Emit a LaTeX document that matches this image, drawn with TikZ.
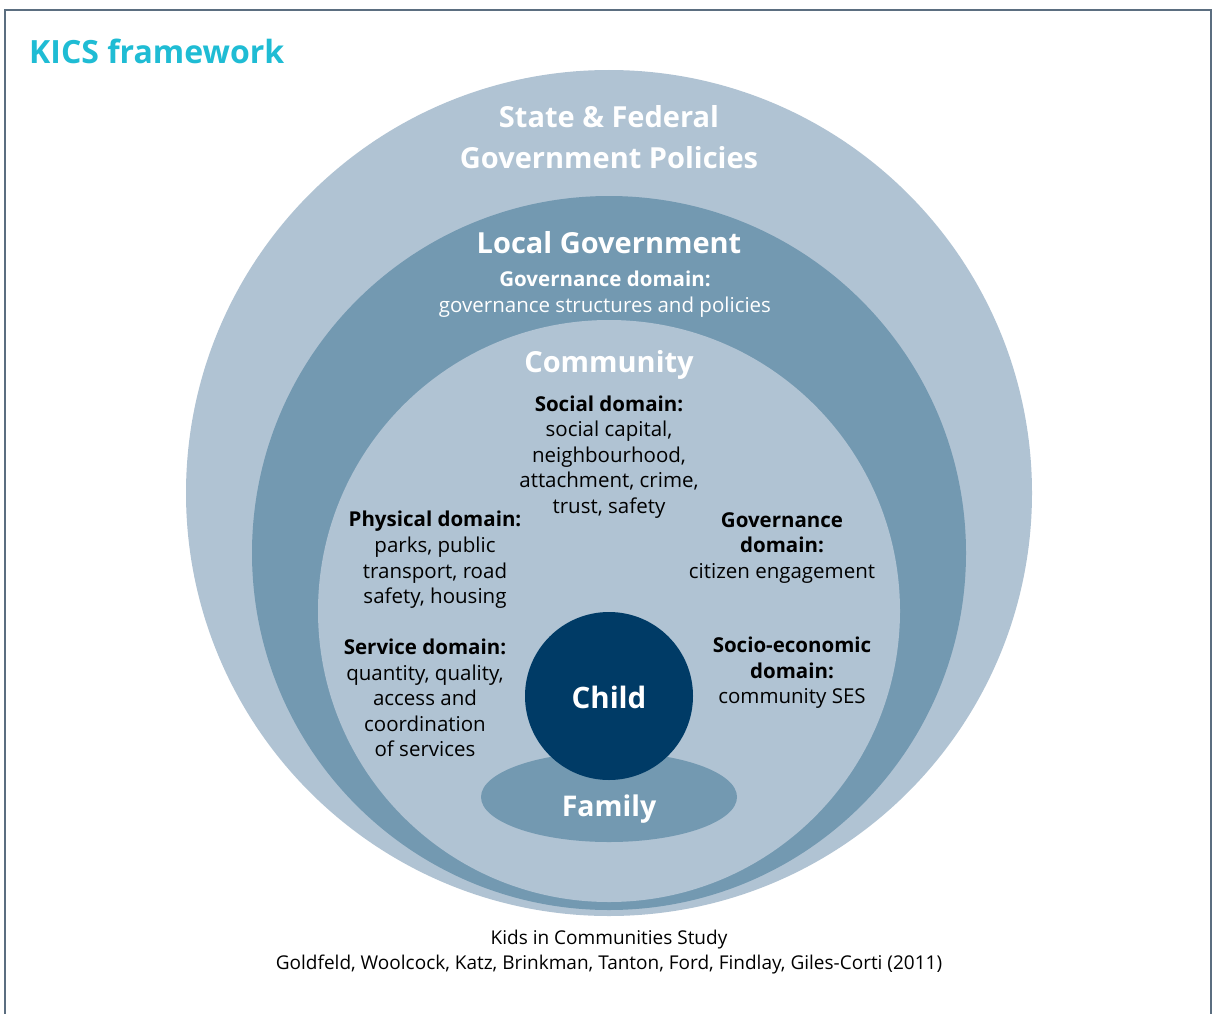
\documentclass[tikz,border=0pt]{standalone}
\usepackage{fontspec}
\usetikzlibrary{shapes.geometric}
\setmainfont{Open Sans}
\definecolor{kicsCyan}{HTML}{1FBCD4}
\definecolor{paleBlue}{HTML}{B0C3D3}
\definecolor{midBlue}{HTML}{7399B1}
\definecolor{navy}{HTML}{003B66}
\definecolor{frameGray}{HTML}{5B6E80}
\begin{document}
\begin{tikzpicture}[x=1pt,y=-1pt,
  ringdisc/.style={circle,inner sep=0pt,minimum size=#1,draw=none},
  titletext/.style={font=\fontsize{29}{41}\selectfont\bfseries,text=white,align=center,inner sep=0pt},
  dombox/.style={font=\fontsize{20.5}{25.6}\selectfont,text=black,align=center,inner sep=0pt},
  wdombox/.style={font=\fontsize{20.5}{25.6}\selectfont,text=white,align=center,inner sep=0pt},
  foottext/.style={font=\fontsize{19}{25}\selectfont,text=black,align=center,inner sep=0pt}]
\useasboundingbox (0,0) rectangle (1212,1014);
\fill[white] (0,0) rectangle (1212,1014);
\coordinate (fbl) at (5,1016);
\coordinate (ftl) at (5,10);
\coordinate (ftr) at (1211,10);
\coordinate (fbr) at (1211,1016);
\draw[frameGray,line width=2pt] (fbl) -- (ftl) -- (ftr) -- (fbr);
\node[anchor=west,inner sep=0pt,font=\fontsize{32}{36}\selectfont\bfseries,text=kicsCyan] (head) at (29,51) {KICS framework};
% rings
\node[ringdisc=846pt,fill=paleBlue] (outer) at (609,493) {};
\node[ringdisc=714pt,fill=midBlue] (local) at (609,553) {};
\node[ringdisc=582pt,fill=paleBlue] (comm) at (609,611) {};
\node[ellipse,minimum width=256pt,minimum height=90pt,inner sep=0pt,fill=midBlue] (family) at (609,797) {};
\node[ringdisc=168pt,fill=navy] (child) at (609,696) {};
% titles
\node[titletext] (state) at (609,137) {State \& Federal\\Government Policies};
\node[titletext] (localt) at (609,243) {Local Government};
\node[wdombox] (localgov) at (605,294) {\textbf{Governance domain:}\\governance structures and policies};
\node[titletext] (commt) at (609,365) {Community};
\node[titletext,font=\fontsize{29.5}{36}\selectfont\bfseries] (childt) at (609,697) {Child};
\node[titletext,font=\fontsize{28.5}{36}\selectfont\bfseries] (famt) at (609,809) {Family};
% domains
\node[dombox] (social) at (609,457) {\textbf{Social domain:}\\social capital,\\neighbourhood,\\attachment, crime,\\trust, safety};
\node[dombox] (physical) at (435,560) {\textbf{Physical domain:}\\parks, public\\transport, road\\safety, housing};
\node[dombox] (govdom) at (782,548) {\textbf{Governance}\\\textbf{domain:}\\citizen engagement};
\node[dombox] (service) at (425,698) {\textbf{Service domain:}\\quantity, quality,\\access and\\coordination\\of services};
\node[dombox] (socio) at (792,673) {\textbf{Socio-economic}\\\textbf{domain:}\\community SES};
% footer
\node[foottext] (source) at (609,952) {Kids in Communities Study\\Goldfeld, Woolcock, Katz, Brinkman, Tanton, Ford, Findlay, Giles-Corti (2011)};
\end{tikzpicture}
\end{document}
